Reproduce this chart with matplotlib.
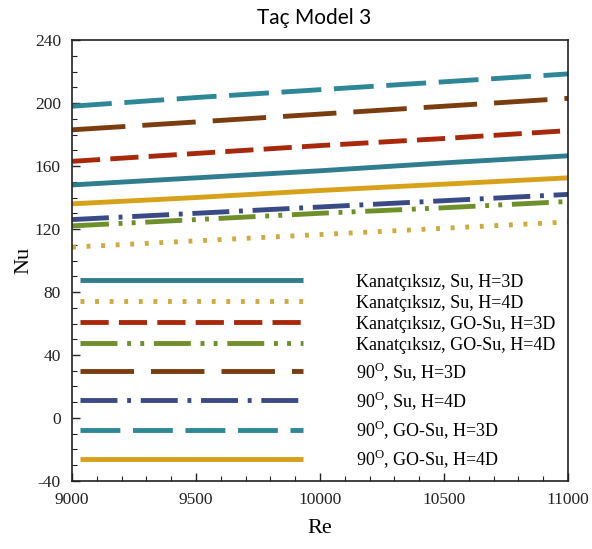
import numpy as np
import matplotlib
matplotlib.use('Agg')
import matplotlib.pyplot as plt
from matplotlib.ticker import MultipleLocator

plt.rcParams['font.family'] = ['Liberation Serif', 'DejaVu Serif']
plt.rcParams['mathtext.fontset'] = 'custom'
plt.rcParams['mathtext.rm'] = 'Liberation Serif'
plt.rcParams['axes.unicode_minus'] = False

re = [9000, 9500, 10000, 10500, 11000]

# Nu values
nu_k_su_3d   = [148.0, 152.5, 157.0, 162.0, 166.5]
nu_k_su_4d   = [108.5, 112.5, 116.5, 120.5, 124.5]
nu_k_go_3d   = [163.0, 168.0, 173.0, 177.5, 182.5]
nu_k_go_4d   = [122.0, 126.0, 130.0, 133.5, 137.5]
nu_90_su_3d  = [183.0, 188.0, 193.0, 198.0, 203.0]
nu_90_su_4d  = [126.0, 130.0, 134.0, 138.0, 142.0]
nu_90_go_3d  = [198.0, 203.5, 208.5, 213.5, 218.5]
nu_90_go_4d  = [136.0, 140.0, 144.5, 148.5, 152.5]

labels = ['Kanatçıksız, Su, H=3D', 'Kanatçıksız, Su, H=4D',
          'Kanatçıksız, GO-Su, H=3D', 'Kanatçıksız, GO-Su, H=4D',
          '90$^{\\mathregular{O}}$, Su, H=3D', '90$^{\\mathregular{O}}$, Su, H=4D',
          '90$^{\\mathregular{O}}$, GO-Su, H=3D', '90$^{\\mathregular{O}}$, GO-Su, H=4D']

series = [nu_k_su_3d, nu_k_su_4d, nu_k_go_3d, nu_k_go_4d,
          nu_90_su_3d, nu_90_su_4d, nu_90_go_3d, nu_90_go_4d]

colors = ['#2f7d8e', '#d0aa3a', '#a8280c', '#6e8f2a',
          '#7a3d10', '#3a4a86', '#2e8796', '#d7a21a']
styles = ['-', (0, (0.8, 2.2)), (0, (5.8, 2.1)), (0, (7.6, 2.0, 0.8, 1.9, 0.8, 2.0)),
          (0, (11, 3.5)), (0, (7.6, 2.0, 0.8, 2.0)), (0, (8.2, 2.6)), '-']

fig = plt.figure(figsize=(5.92, 5.49), dpi=100)
ax = fig.add_axes([0.1216, 0.1239, 0.8379, 0.8031])

handles = []
for y, c, ls, lab in zip(series, colors, styles, labels):
    h, = ax.plot(re, y, color=c, ls=ls, lw=3.5, label=lab,
                 dash_capstyle='butt', solid_capstyle='butt')
    handles.append(h)

ax.set_xlim(9000, 11000)
ax.set_ylim(-40, 240)
ax.xaxis.set_major_locator(MultipleLocator(500))
ax.xaxis.set_minor_locator(MultipleLocator(100))
ax.yaxis.set_major_locator(MultipleLocator(40))
ax.yaxis.set_minor_locator(MultipleLocator(10))
ax.tick_params(which='both', direction='in', top=False, right=False,
               labelsize=12.5, colors='#222222')
ax.tick_params(axis='y', which='major', pad=8)
ax.tick_params(axis='x', which='major', pad=8)
ax.tick_params(which='major', length=6, width=1)
ax.tick_params(which='minor', length=3.5, width=0.8)
for s in ax.spines.values():
    s.set_linewidth(1.2)
    s.set_color('#222222')

ax.set_xlabel('Re', fontsize=16, labelpad=8)
ax.set_ylabel('Nu', fontsize=16, labelpad=1)
fig.text(0.53, 0.968, 'Taç Model 3', family='Lato', fontsize=15,
         ha='center', va='center')

leg_kw = dict(frameon=False, fontsize=13, handlelength=12.35, handletextpad=2.95,
              borderaxespad=0, borderpad=0)
leg1 = ax.legend(handles=handles[:4], loc='upper left',
                 bbox_to_anchor=(0.016, 0.47), labelspacing=0.22, **leg_kw)
ax.add_artist(leg1)
ax.legend(handles=handles[4:], loc='upper left',
          bbox_to_anchor=(0.016, 0.275), labelspacing=0.34, **leg_kw)

plt.savefig('out.png', dpi=100)
